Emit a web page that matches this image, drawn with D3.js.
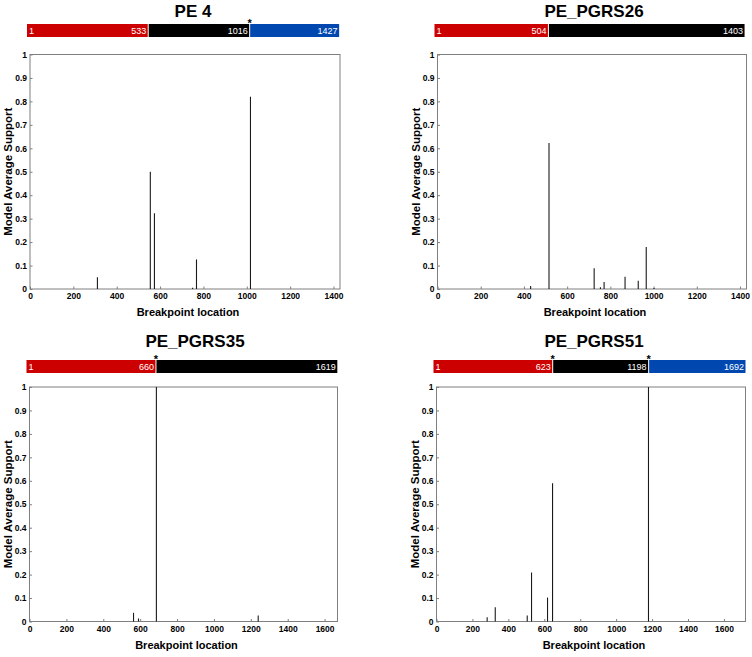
<!DOCTYPE html>
<html>
<head>
<meta charset="utf-8">
<script src="https://d3js.org/d3.v7.min.js"></script>
<style>
  body { margin: 0; background: #fff; }
  text { font-family: "Liberation Sans", Arial, sans-serif; }
</style>
</head>
<body>
<svg id="chart"></svg>
<script>
var width = 752;
var height = 657;

// ticks
var yTicks = [0, 0.1, 0.2, 0.3, 0.4, 0.5, 0.6, 0.7, 0.8, 0.9, 1];
var xTicks1400 = [0, 200, 400, 600, 800, 1000, 1200, 1400];
var xTicks1600 = [0, 200, 400, 600, 800, 1000, 1200, 1400, 1600];
var segColors = ["#cc0000", "#000000", "#0048b0"];

// PE4
var pe4Pos = [311, 555, 574, 750, 768, 1017];
var pe4Support = [0.05, 0.50, 0.323, 0.005, 0.126, 0.82];
var pe4SegEnds = [543, 1011, 1426];
var pe4SegLabels = ["533", "1016", "1427"];
var pe4Stars = [false, true, false];

// PE_PGRS26
var pgrs26Pos = [431, 516, 725, 754, 771, 868, 929, 966, 1002];
var pgrs26Support = [0.013, 0.623, 0.089, 0.007, 0.030, 0.052, 0.035, 0.179, 0.004];
var pgrs26SegEnds = [511, 1421];
var pgrs26SegLabels = ["504", "1403"];
var pgrs26Stars = [false, false];

// PE_PGRS35
var pgrs35Pos = [564, 591, 688, 1240];
var pgrs35Support = [0.037, 0.013, 1.0, 0.026];
var pgrs35SegEnds = [683, 1669];
var pgrs35SegLabels = ["660", "1619"];
var pgrs35Stars = [true, false];

// PE_PGRS51
var pgrs51Pos = [282, 327, 505, 529, 618, 646, 1180];
var pgrs51Support = [0.018, 0.061, 0.026, 0.209, 0.102, 0.59, 1.0];
var pgrs51SegEnds = [644, 1178, 1720];
var pgrs51SegLabels = ["623", "1198", "1692"];
var pgrs51Stars = [true, true, false];

var panels = [
	{title: "PE 4", xMax: 1430, xTicks: xTicks1400, pos: pe4Pos, val: pe4Support,
	 segEnds: pe4SegEnds, segLabels: pe4SegLabels, stars: pe4Stars,
	 left: 30, top: 54.5, w: 310, titleX: 193, titleY: 11, barY: 24},
	{title: "PE_PGRS26", xMax: 1430, xTicks: xTicks1400, pos: pgrs26Pos, val: pgrs26Support,
	 segEnds: pgrs26SegEnds, segLabels: pgrs26SegLabels, stars: pgrs26Stars,
	 left: 437.5, top: 54.5, w: 309, titleX: 594, titleY: 11, barY: 24},
	{title: "PE_PGRS35", xMax: 1670, xTicks: xTicks1600, pos: pgrs35Pos, val: pgrs35Support,
	 segEnds: pgrs35SegEnds, segLabels: pgrs35SegLabels, stars: pgrs35Stars,
	 left: 29.5, top: 387, w: 308, titleX: 195, titleY: 341, barY: 360},
	{title: "PE_PGRS51", xMax: 1720, xTicks: xTicks1600, pos: pgrs51Pos, val: pgrs51Support,
	 segEnds: pgrs51SegEnds, segLabels: pgrs51SegLabels, stars: pgrs51Stars,
	 left: 436.5, top: 387, w: 309, titleX: 594, titleY: 341, barY: 360}
];

var plotH = 234.5;
var barH = 13;
var boxColor = "#7f7f7f";

var svg = d3.select("#chart")
	.attr("width", width)
	.attr("height", height);

var drawPanel = function(p) {
	var g = svg.append("g");

	var xScale = d3.scaleLinear().domain([0, p.xMax]).range([p.left, p.left + p.w]);
	var yScale = d3.scaleLinear().domain([0, 1]).range([p.top + plotH, p.top]);

	// title
	g.append("text")
		.attr("x", p.titleX)
		.attr("y", p.titleY)
		.attr("dy", "0.36em")
		.attr("text-anchor", "middle")
		.style("font-size", "17px")
		.style("font-weight", "bold")
		.text(p.title);

	// domain bar
	var starts = [xScale(0) - 3].concat(p.segEnds.slice(0, -1).map(function(d) { return xScale(d) + 1; }));
	p.segEnds.forEach(function(end, i) {
		var x0 = starts[i];
		var x1 = xScale(end);
		g.append("rect")
			.attr("x", x0)
			.attr("y", p.barY)
			.attr("width", x1 - x0)
			.attr("height", barH)
			.attr("fill", segColors[i]);

		g.append("text")
			.attr("x", x1 - 1.5)
			.attr("y", p.barY + barH / 2)
			.attr("dy", "0.36em")
			.attr("text-anchor", "end")
			.attr("fill", "#fff")
			.style("font-size", "9px")
			.text(p.segLabels[i]);

		if (p.stars[i]) {
			g.append("text")
				.attr("x", x1 + 0.5)
				.attr("y", p.barY + 3)
				.attr("text-anchor", "middle")
				.style("font-size", "11px")
				.style("font-weight", "bold")
				.text("*");
		}
	});

	g.append("text")
		.attr("x", starts[0] + 2)
		.attr("y", p.barY + barH / 2)
		.attr("dy", "0.36em")
		.attr("fill", "#fff")
		.style("font-size", "9px")
		.text("1");

	// axes
	var xAxis = g.append("g")
		.attr("transform", "translate(0," + (p.top + plotH) + ")")
		.call(d3.axisBottom(xScale).tickValues(p.xTicks).tickSize(-2.5).tickPadding(4)
			.tickFormat(d3.format("d")));

	var yAxis = g.append("g")
		.attr("transform", "translate(" + p.left + ",0)")
		.call(d3.axisLeft(yScale).tickValues(yTicks).tickSize(-2.5).tickPadding(3)
			.tickFormat(d3.format("~g")));

	[xAxis, yAxis].forEach(function(a) {
		a.select(".domain").remove();
		a.selectAll(".tick line").attr("stroke", boxColor);
		a.selectAll(".tick text")
			.attr("fill", "#000")
			.style("font-size", "8.5px")
			.style("font-weight", "bold")
			.style("font-family", "'Liberation Sans', Arial, sans-serif");
	});

	// box
	g.append("rect")
		.attr("x", p.left)
		.attr("y", p.top)
		.attr("width", p.w)
		.attr("height", plotH)
		.attr("fill", "none")
		.attr("stroke", boxColor)
		.attr("stroke-width", 1);

	// support spikes
	g.selectAll(".spike")
		.data(p.pos.map(function(d, i) { return {x: d, y: p.val[i]}; }))
		.enter()
		.append("line")
		.attr("class", "spike")
		.attr("x1", function(d) { return xScale(d.x); })
		.attr("x2", function(d) { return xScale(d.x); })
		.attr("y1", yScale(0))
		.attr("y2", function(d) { return yScale(d.y); })
		.attr("stroke", "#1a1a1a")
		.attr("stroke-width", 1.1);

	// axis titles
	g.append("text")
		.attr("text-anchor", "middle")
		.attr("transform", "translate(" + (p.left - 18) + "," + (p.top + plotH / 2) + ")rotate(-90)")
		.style("font-size", "11.5px")
		.style("font-weight", "bold")
		.text("Model Average Support");

	g.append("text")
		.attr("text-anchor", "middle")
		.attr("x", p.left + p.w / 2 + 3)
		.attr("y", p.top + plotH + 27)
		.style("font-size", "11px")
		.style("font-weight", "bold")
		.text("Breakpoint location");
};

panels.forEach(drawPanel);
</script>
</body>
</html>
